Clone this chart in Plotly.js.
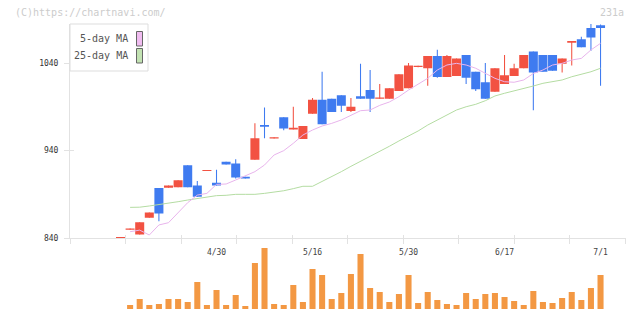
<!DOCTYPE html>
<html><head><meta charset="utf-8">
<script src="https://cdn.plot.ly/plotly-3.0.1.min.js"></script>
<style>html,body{margin:0;padding:0;background:#fff;}#chart{width:640px;height:311px;}</style>
</head><body><div id="chart"></div>
<script>
// ---- data ----
const openP  = [840,849.5,844,863,897,897.5,898,923,900,916.5,903,927,925,910,929.5,969,953.8,978,964,953,982,998,999,1003,985,1002,1009,999,999,1008,1011,1035.5,1034,1048,1024,1025,1049,1030,1018,1007,1016,1025,1034,1053,1049,1049,1039,1063,1067,1080,1083];
const highP  = [841.2,850.8,858,869,897,900,906,923,905,917.7,918,927,930,910,971,989,955,978,990,968,1000,1030,999,1003,1000,1039,1032,1016,1011,1027,1040,1036.8,1048,1055,1049,1045,1049,1030,1040,1034,1049,1039,1049,1053,1049,1049,1045,1065,1070,1084.5,1084];
const lowP   = [840,849.5,844,863,859,897.5,898,898,887,916.5,900,924,908,908,929.5,954,953.8,963,964,953,982,970,984,984,984,999,984,999,999,1008,1011,1035,1014,1023,1024,1025,1016,1008,999,1007,1016,1025,1034,986,1030,1031,1029,1037,1058,1054,1014];
const closeP = [841.2,850.8,858,869,868,900,906,898,887,917.7,900,924,909,908,954,967,955,965,966,968,998,970,984,991,990,999,999,1000.5,1011,1027,1037,1036.8,1048,1024,1048,1045,1023,1010,999,1034,1026,1034,1049,1029,1030,1031,1045,1065,1058,1069,1080];
const volume = [0,4000,10000,4000,5000,10000,10000,7000,27000,4000,19000,4000,14000,3000,46000,61000,5000,4000,24000,7000,40000,34000,10000,16000,35000,55000,21000,17000,7000,15000,34000,6000,17000,9000,5000,4000,16000,10000,15000,16000,12000,8000,4000,18000,7000,6000,11000,17000,9000,21000,34000];
const ma5  = [null,847.2,849,843.4,854.9,857.5,869,880.4,889,891,901.3,901.7,906.3,910.9,915.8,923.4,934.9,939.8,948.2,957.7,963.4,968,971,974.9,980.6,985.5,986.3,991.6,995.4,1001.5,1009.1,1015.8,1022.5,1032,1037.7,1039.6,1037.7,1034,1028,1022.5,1018.6,1018,1020.6,1028,1032,1037.7,1039.6,1043.4,1045.3,1054.9,1062.5];
const ma25 = [null,875,875.2,876.6,878,879.6,881.5,883.4,885,886.5,888.4,888.8,889.9,889.9,889.9,891,892.2,894,896.4,899.1,899.1,904.4,910,915.8,921.9,927.4,933.3,939,944.8,950.9,956.4,962.3,969.1,974.9,980.6,986.3,990,992.8,996.9,1002.3,1005.4,1008,1010.7,1013.7,1016.8,1018.6,1020.6,1024.3,1027,1030,1034];
const tickIdx    = [10,20,30,40,50];
const tickLabels = ['4/30','5/16','5/30','6/17','7/1'];
const priceTicks = [840,940,1040];

// ---- build ----
const W = 640, H = 311;
const fx = v => v / W, fy = v => 1 - v / H;
const idx = openP.map((_, i) => i);
const RED = '#f25242', BLUE = '#3f7bf0';
const col = idx.map(i => closeP[i] >= openP[i] ? RED : BLUE);
const xr = [-5.26, 52.6];
const xdom = [fx(70), fx(625.5)];
const ydom = [fy(238), fy(24)];
const vdom = [fy(309), fy(248)];
const mono = 'DejaVu Sans Mono, monospace';

const traces = [
  {type:'scatter', mode:'lines', x: idx, y: ma25, line:{color:'#b4dca2', width:1}, xaxis:'x', yaxis:'y', hoverinfo:'skip'},
  {type:'scatter', mode:'lines', x: idx, y: ma5,  line:{color:'#e8b4ec', width:1}, xaxis:'x', yaxis:'y', hoverinfo:'skip'},
  {type:'bar', x: idx, base: lowP, y: idx.map(i => highP[i] - lowP[i]), width: 0.11,
   marker:{color: col, line:{width:0}}, xaxis:'x', yaxis:'y', hoverinfo:'skip'},
  {type:'bar', x: idx, base: idx.map(i => Math.min(openP[i], closeP[i])),
   y: idx.map(i => Math.abs(closeP[i] - openP[i])), width: 0.94,
   marker:{color: col, line:{width:0}}, xaxis:'x', yaxis:'y', hoverinfo:'skip'},
  {type:'bar', x: idx, y: volume, width: 0.63, marker:{color:'#f39843', line:{width:0}},
   xaxis:'x', yaxis:'y2', hoverinfo:'skip'},
  {type:'scatter', mode:'lines', x:[xr[0]], y:[null], xaxis:'x2', yaxis:'y', hoverinfo:'skip'},
  {type:'scatter', mode:'lines', x:[xr[0]], y:[null], xaxis:'x3', yaxis:'y3', hoverinfo:'skip'}
];

const gridTick = (xr[1] - xr[0]) / 10;
const layout = {
  width: W, height: H, margin:{l:0,r:0,t:0,b:0,pad:0},
  paper_bgcolor:'#fff', plot_bgcolor:'rgba(0,0,0,0)',
  showlegend:false, hovermode:false, barmode:'overlay',
  xaxis:{domain:xdom, range:xr, anchor:'y', showline:true, linecolor:'#e2e2e2', linewidth:1,
         showgrid:false, zeroline:false, tickmode:'array', tickvals:tickIdx, ticktext:tickLabels,
         ticks:'', ticklabelstandoff:6, tickfont:{family:mono, size:8, color:'#444'}},
  xaxis2:{domain:xdom, range:xr, anchor:'y', overlaying:'x', showline:false, showgrid:false, zeroline:false,
          tickmode:'linear', tick0:xr[0], dtick:gridTick, ticks:'outside', ticklen:5, tickwidth:1,
          tickcolor:'#e2e2e2', showticklabels:false},
  xaxis3:{domain:xdom, range:xr, anchor:'y3', overlaying:'x', showline:false, showgrid:false, zeroline:false,
          tickmode:'linear', tick0:xr[0], dtick:gridTick, ticks:'inside', ticklen:3, tickwidth:1,
          tickcolor:'#e2e2e2', showticklabels:false},
  yaxis:{domain:ydom, range:[840, 1084.57], anchor:'x', showline:true, linecolor:'#e2e2e2', linewidth:1,
         showgrid:false, zeroline:false, tickmode:'array', tickvals:priceTicks, ticks:'outside', ticklen:5,
         tickcolor:'#e2e2e2', ticklabelstandoff:4, tickfont:{family:mono, size:8, color:'#333'}},
  yaxis3:{domain:ydom, range:[840, 1084.57], anchor:'x', overlaying:'y', showline:false, showgrid:false, zeroline:false,
          tickmode:'array', tickvals:priceTicks, ticks:'inside', ticklen:4, tickcolor:'#e2e2e2', showticklabels:false},
  yaxis2:{domain:vdom, range:[0, 61000], anchor:'x', visible:false},
  shapes:[
    {type:'rect', xref:'paper', yref:'paper', x0:fx(70), x1:fx(148), y0:fy(71), y1:fy(24),
     line:{color:'#dddddd', width:1}, fillcolor:'#ffffff', layer:'above'},
    {type:'rect', xref:'paper', yref:'paper', x0:fx(136.5), x1:fx(142.5), y0:fy(46), y1:fy(31.5),
     line:{color:'#666', width:1}, fillcolor:'#f0bcf0', layer:'above'},
    {type:'rect', xref:'paper', yref:'paper', x0:fx(136.5), x1:fx(142.5), y0:fy(63), y1:fy(48.5),
     line:{color:'#666', width:1}, fillcolor:'#c2e2b2', layer:'above'}
  ],
  annotations:[
    {xref:'paper', yref:'paper', x:fx(129.5), y:fy(39), xanchor:'right', yanchor:'middle', showarrow:false,
     text:'5-day MA', font:{family:mono, size:10, color:'#555'}},
    {xref:'paper', yref:'paper', x:fx(129.5), y:fy(56), xanchor:'right', yanchor:'middle', showarrow:false,
     text:'25-day MA', font:{family:mono, size:10, color:'#555'}},
    {xref:'paper', yref:'paper', x:fx(13), y:fy(12), xanchor:'left', yanchor:'middle', showarrow:false,
     text:'(C)https://chartnavi.com/', font:{family:mono, size:10, color:'#cccccc'}},
    {xref:'paper', yref:'paper', x:fx(626), y:fy(12), xanchor:'right', yanchor:'middle', showarrow:false,
     text:'231a', font:{family:mono, size:10, color:'#cccccc'}}
  ]
};
Plotly.newPlot('chart', traces, layout, {displayModeBar:false, staticPlot:true});
</script></body></html>
